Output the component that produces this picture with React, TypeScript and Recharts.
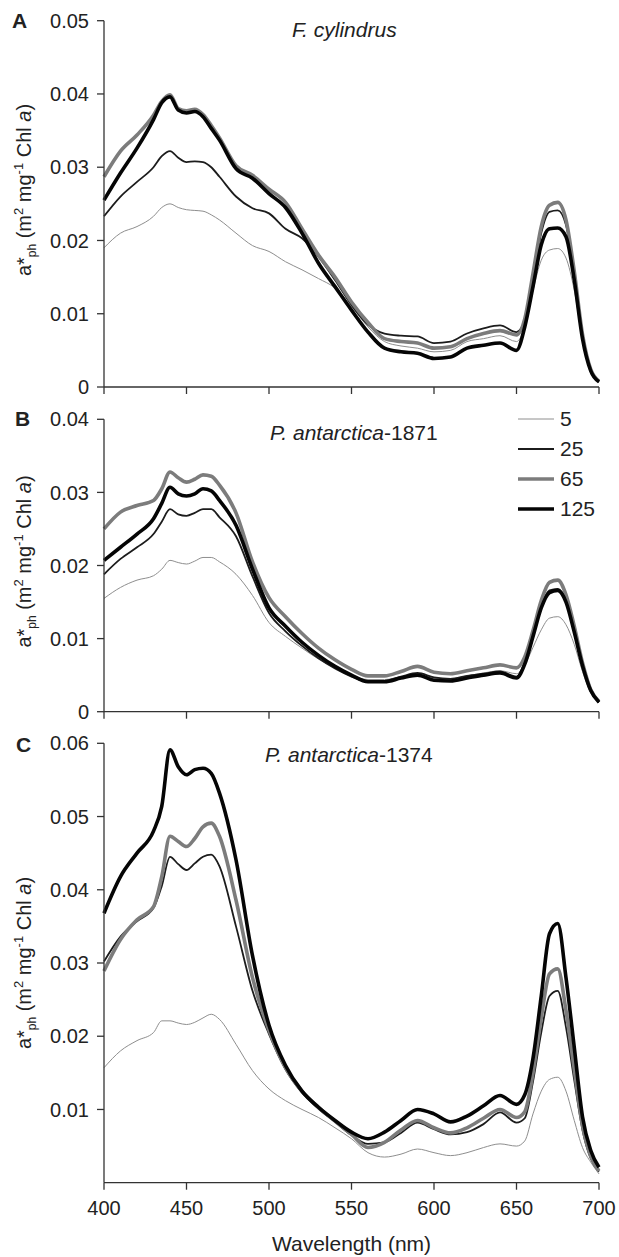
import { LineChart, Line, XAxis, YAxis, Legend, Label } from "recharts";

const FONT = "'Liberation Sans', Arial, Helvetica, sans-serif";
const INK = "#222";
const AXIS = "#333";

// wavelength (nm) shared by all three panels
const wavelength = [
  400, 410, 420, 430, 435, 440, 445, 450, 455, 460, 465, 470, 480, 490, 500, 510, 520, 530, 540, 550,
  560, 570, 580, 590, 600, 610, 620, 630, 640, 650, 655, 660, 665, 670, 675, 680, 685, 690, 695, 700,
];
const xTicks = [400, 450, 500, 550, 600, 650, 700];

// A: F. cylindrus
const cyl5 = [
  0.019, 0.021, 0.0219, 0.0233, 0.0245, 0.025, 0.0245, 0.0242, 0.0241, 0.024, 0.0235, 0.0228, 0.021, 0.0193, 0.0185, 0.0171, 0.016, 0.0148, 0.0135, 0.011,
  0.0082, 0.0062, 0.0056, 0.0053, 0.0048, 0.005, 0.0062, 0.0066, 0.007, 0.0062, 0.0082, 0.0132, 0.0173, 0.0187, 0.0189, 0.0176, 0.0132, 0.0064, 0.0021, 0.0006,
];
const cyl25 = [
  0.0233, 0.026, 0.028, 0.03, 0.0315, 0.0322, 0.0313, 0.0307, 0.0308, 0.0307, 0.03, 0.0287, 0.026, 0.0244, 0.0237, 0.0216, 0.0203, 0.0178, 0.0146, 0.0112,
  0.0085, 0.0073, 0.007, 0.0069, 0.006, 0.0062, 0.0073, 0.008, 0.0084, 0.0075, 0.0091, 0.0146, 0.021, 0.0239, 0.0241, 0.0221, 0.0152, 0.007, 0.0023, 0.0007,
];
const cyl65 = [
  0.0287, 0.0322, 0.0344, 0.0371, 0.039, 0.0399, 0.038, 0.0377, 0.0379, 0.0372, 0.0357, 0.034, 0.0302, 0.0289, 0.027, 0.0252, 0.0216, 0.018, 0.015, 0.0116,
  0.0088, 0.0066, 0.0062, 0.006, 0.0053, 0.0055, 0.0066, 0.0073, 0.0077, 0.0071, 0.0093, 0.0155, 0.0219, 0.0248, 0.0252, 0.0228, 0.0158, 0.0072, 0.0024, 0.0008,
];
const cyl125 = [
  0.0255, 0.0292, 0.0326, 0.0365, 0.0388, 0.0396, 0.0378, 0.0374, 0.0376, 0.0369, 0.0353, 0.0337, 0.0298, 0.0285, 0.0264, 0.0245, 0.021, 0.0169, 0.0137, 0.0105,
  0.0075, 0.0053, 0.0048, 0.0046, 0.0039, 0.0041, 0.0053, 0.0057, 0.006, 0.005, 0.0082, 0.0137, 0.0194, 0.0216, 0.0217, 0.0205, 0.0146, 0.0066, 0.0022, 0.0007,
];

// B: P. antarctica-1871
const ant1871_5 = [
  0.0155, 0.017, 0.018, 0.0186, 0.0195, 0.0207, 0.0204, 0.0202, 0.0206, 0.0211, 0.0211, 0.0205, 0.0188, 0.0159, 0.0122, 0.0103, 0.0087, 0.0072, 0.006, 0.005,
  0.0044, 0.0044, 0.0048, 0.0051, 0.0046, 0.0045, 0.0049, 0.0053, 0.0056, 0.0052, 0.0064, 0.0088, 0.0112, 0.0128, 0.013, 0.0119, 0.0092, 0.0055, 0.0026, 0.0012,
];
const ant1871_25 = [
  0.0188, 0.0209, 0.0225, 0.0243, 0.026, 0.0277, 0.027, 0.0268, 0.0272, 0.0277, 0.0277, 0.0266, 0.024, 0.0185, 0.0135, 0.011, 0.009, 0.0073, 0.0059, 0.0048,
  0.0041, 0.0042, 0.0048, 0.0053, 0.0047, 0.0045, 0.0049, 0.0052, 0.0055, 0.0048, 0.0068, 0.0105, 0.0145, 0.0166, 0.0168, 0.0152, 0.011, 0.0064, 0.0029, 0.0013,
];
const ant1871_65 = [
  0.025, 0.0273, 0.0282, 0.0289, 0.0305, 0.0328, 0.032, 0.0314, 0.0318, 0.0324, 0.0322, 0.031, 0.0272, 0.0205, 0.0156, 0.013, 0.0107, 0.0087, 0.0071, 0.0058,
  0.0049, 0.0049, 0.0055, 0.0062, 0.0054, 0.0052, 0.0056, 0.006, 0.0064, 0.006, 0.0075, 0.0111, 0.0152, 0.0177, 0.018, 0.016, 0.0117, 0.0067, 0.003, 0.0014,
];
const ant1871_125 = [
  0.0207, 0.0225, 0.0243, 0.0264, 0.0285, 0.0307, 0.0298, 0.0295, 0.0298, 0.0305, 0.0302, 0.0289, 0.0255, 0.0195, 0.0142, 0.0117, 0.0095, 0.0077, 0.0062, 0.005,
  0.0041, 0.0041, 0.0046, 0.005, 0.0043, 0.0042, 0.0046, 0.005, 0.0053, 0.0046, 0.0065, 0.0103, 0.0142, 0.0163, 0.0166, 0.015, 0.0109, 0.0063, 0.0029, 0.0013,
];

// C: P. antarctica-1374
const ant1374_5 = [
  0.0157, 0.018, 0.0194, 0.0205, 0.0221, 0.0221, 0.0218, 0.0216, 0.0219, 0.0225, 0.023, 0.0223, 0.0189, 0.0153, 0.0128, 0.0112, 0.01, 0.0089, 0.0075, 0.006,
  0.0041, 0.0035, 0.0039, 0.0046, 0.0041, 0.0037, 0.0041, 0.0048, 0.0053, 0.005, 0.0057, 0.0094, 0.0125, 0.0141, 0.0144, 0.0125, 0.0085, 0.0048, 0.0028, 0.0012,
];
const ant1374_25 = [
  0.0302, 0.0336, 0.0357, 0.0375, 0.0405, 0.0445, 0.0435, 0.0427, 0.0436, 0.0445, 0.0448, 0.0432, 0.035, 0.0262, 0.0203, 0.0155, 0.0123, 0.0101, 0.0083, 0.0065,
  0.0053, 0.0055, 0.0068, 0.0082, 0.0073, 0.0066, 0.0069, 0.008, 0.0096, 0.0082, 0.0088, 0.0138, 0.0205, 0.0255, 0.0262, 0.0212, 0.014, 0.0072, 0.0033, 0.0015,
];
const ant1374_65 = [
  0.0289, 0.0332, 0.0359, 0.0377, 0.0418, 0.0473, 0.0466, 0.0459, 0.047, 0.0486, 0.0491, 0.0473, 0.0386, 0.028, 0.0208, 0.0157, 0.0125, 0.0103, 0.0084, 0.0066,
  0.0048, 0.0055, 0.0072, 0.0085, 0.0075, 0.0068, 0.0075, 0.0088, 0.01, 0.0089, 0.0097, 0.015, 0.0225, 0.0285, 0.0292, 0.0235, 0.0155, 0.0078, 0.0036, 0.0016,
];
const ant1374_125 = [
  0.0368, 0.0418, 0.045, 0.048, 0.0514, 0.0591, 0.0568, 0.0557, 0.0564, 0.0566, 0.0559, 0.0532, 0.0441, 0.031, 0.0215, 0.016, 0.0125, 0.0103, 0.0085, 0.0069,
  0.006, 0.0069, 0.0085, 0.01, 0.0094, 0.0083, 0.0091, 0.0105, 0.0119, 0.0107, 0.012, 0.017, 0.0255, 0.034, 0.0354, 0.028, 0.0185, 0.009, 0.0044, 0.0021,
];

const series = [
  { key: "i5", name: "5", color: "#8e8e8e", width: 1 },
  { key: "i25", name: "25", color: "#1c1c1c", width: 1.8 },
  { key: "i65", name: "65", color: "#7c7c7c", width: 3.6 },
  { key: "i125", name: "125", color: "#050505", width: 3.6 },
];

const rows = (s5: number[], s25: number[], s65: number[], s125: number[]) =>
  wavelength.map((wl, i) => ({ wl, i5: s5[i], i25: s25[i], i65: s65[i], i125: s125[i] }));

const fmt = (v: number) => (v === 0 ? "0" : v.toFixed(2));

const YTitle = ({ cy }: { cy: number }) => (
  <text x={31} y={cy} transform={`rotate(-90, 31, ${cy})`} textAnchor="middle" fontSize={20} fill={INK} fontFamily={FONT}>
    <tspan>a*</tspan>
    <tspan fontSize={12} dy={5}>ph</tspan>
    <tspan dy={-5}>{" (m"}</tspan>
    <tspan fontSize={13} dy={-8}>2</tspan>
    <tspan dy={8}>{" mg"}</tspan>
    <tspan fontSize={13} dy={-8}>-1</tspan>
    <tspan dy={8}>{" Chl "}</tspan>
    <tspan fontStyle="italic">a</tspan>
    <tspan>)</tspan>
  </text>
);

// legend keeps the 5, 25, 65, 125 order of the original
const LegendBox = () => (
  <div style={{ fontFamily: FONT, fontSize: 21, color: INK }}>
    {series.map((s) => (
      <div key={s.key} style={{ display: "flex", alignItems: "center", height: 30 }}>
        <svg width={36} height={30}>
          <line x1={0} x2={36} y1={15} y2={15} stroke={s.color} strokeWidth={s.width} />
        </svg>
        <span style={{ marginLeft: 6, lineHeight: "30px" }}>{s.name}</span>
      </div>
    ))}
  </div>
);

type PanelProps = {
  data: any[];
  top: number;
  height: number;
  marginTop: number;
  xAxisHeight: number;
  yMax: number;
  yTicks: number[];
  labelCy: number;
  bottom?: boolean;
  legend?: boolean;
};

const Panel = ({ data, top, height, marginTop, xAxisHeight, yMax, yTicks, labelCy, bottom, legend }: PanelProps) => (
  <div style={{ position: "absolute", left: 0, top }}>
    <LineChart width={619} height={height} data={data} margin={{ top: marginTop, right: 20, bottom: 0, left: 0 }}>
      <XAxis
        dataKey="wl"
        type="number"
        domain={[400, 700]}
        ticks={xTicks}
        height={xAxisHeight}
        stroke={AXIS}
        strokeWidth={1.3}
        tickSize={7}
        tickMargin={11}
        tickFormatter={bottom ? undefined : () => ""}
        tick={{ fill: INK, fontSize: 20, fontFamily: FONT }}
      >
        {bottom && (
          <Label
            content={() => (
              <text x={351.5} y={height - 6} textAnchor="middle" fontSize={21} fill={INK} fontFamily={FONT}>
                Wavelength (nm)
              </text>
            )}
          />
        )}
      </XAxis>
      <YAxis
        type="number"
        domain={[0, yMax]}
        ticks={yTicks}
        width={104}
        stroke={AXIS}
        strokeWidth={1.3}
        tickSize={7}
        tickMargin={8}
        tickFormatter={fmt}
        tick={{ fill: INK, fontSize: 20, fontFamily: FONT }}
      >
        <Label content={() => <YTitle cy={labelCy} />} />
      </YAxis>
      {legend && (
        <Legend
          layout="vertical"
          align="center"
          verticalAlign="middle"
          content={LegendBox}
          wrapperStyle={{ left: 518, top: 4, width: 90 }}
        />
      )}
      {series.map((s) => (
        <Line
          key={s.key}
          type="monotone"
          dataKey={s.key}
          name={s.name}
          stroke={s.color}
          strokeWidth={s.width}
          dot={false}
          activeDot={false}
          isAnimationActive={false}
        />
      ))}
    </LineChart>
  </div>
);

const textBase = { position: "absolute" as const, fontFamily: FONT, fontSize: 21, lineHeight: "20px", color: INK, whiteSpace: "nowrap" as const };

export default function App() {
  return (
    <div style={{ position: "absolute", left: 0, top: 0, width: 619, height: 1257, background: "#fff" }}>
      <Panel
        data={rows(cyl5, cyl25, cyl65, cyl125)}
        top={0}
        height={400}
        marginTop={20.7}
        xAxisHeight={13}
        yMax={0.05}
        yTicks={[0, 0.01, 0.02, 0.03, 0.04, 0.05]}
        labelCy={190}
      />
      <Panel
        data={rows(ant1871_5, ant1871_25, ant1871_65, ant1871_125)}
        top={400}
        height={325}
        marginTop={19.3}
        xAxisHeight={13.3}
        yMax={0.04}
        yTicks={[0, 0.01, 0.02, 0.03, 0.04]}
        labelCy={161.5}
        legend
      />
      <Panel
        data={rows(ant1374_5, ant1374_25, ant1374_65, ant1374_125)}
        top={725}
        height={532}
        marginTop={18.3}
        xAxisHeight={74.3}
        yMax={0.06}
        yTicks={[0.01, 0.02, 0.03, 0.04, 0.05, 0.06]}
        labelCy={238}
        bottom
      />

      <div style={{ ...textBase, left: 12, top: 11, fontWeight: "bold" }}>A</div>
      <div style={{ ...textBase, left: 15, top: 409, fontWeight: "bold" }}>B</div>
      <div style={{ ...textBase, left: 16, top: 735, fontWeight: "bold" }}>C</div>

      <div style={{ ...textBase, left: 292, top: 20 }}>
        <i>F. cylindrus</i>
      </div>
      <div style={{ ...textBase, left: 270, top: 423 }}>
        <i>P. antarctica</i>-1871
      </div>
      <div style={{ ...textBase, left: 265, top: 745 }}>
        <i>P. antarctica</i>-1374
      </div>
    </div>
  );
}
